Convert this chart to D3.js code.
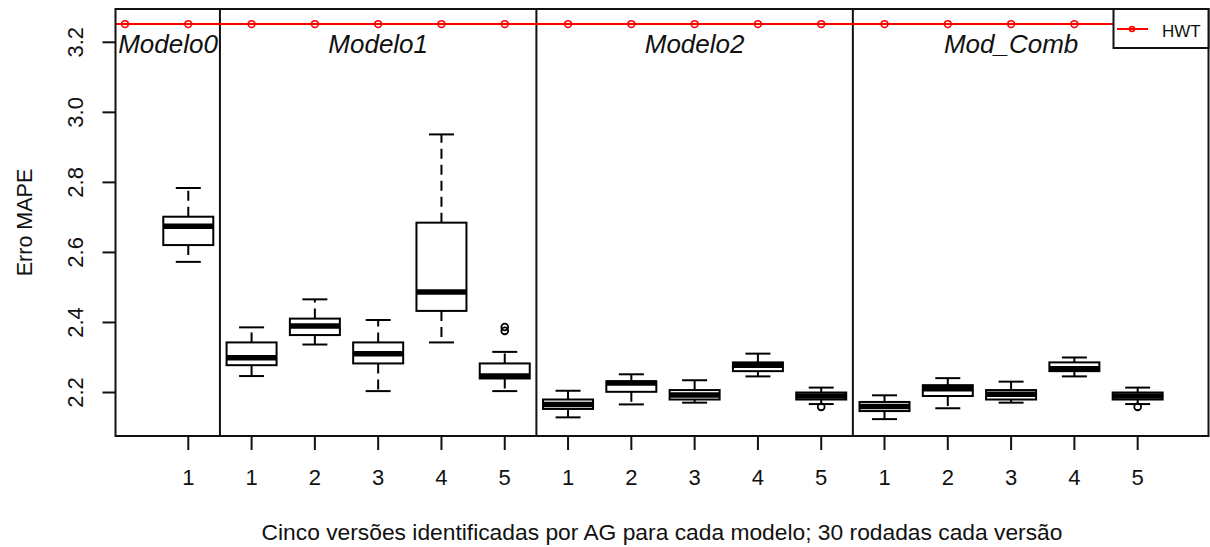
<!DOCTYPE html>
<html>
<head>
<meta charset="utf-8">
<script src="https://cdn.jsdelivr.net/npm/d3@7"></script>
<style>
  html, body { margin: 0; padding: 0; background: #fff; }
  svg { display: block; font-family: "Liberation Sans", Arial, sans-serif; }
</style>
</head>
<body>
<svg id="chart" width="1210" height="547"></svg>
<script>
// Boxplot summaries of MAPE error, 30 runs per version, 16 versions in four model groups
const groupNames = ["Modelo0", "Modelo1", "Modelo2", "Mod_Comb"];
const versionLabels = ["1", "1", "2", "3", "4", "5", "1", "2", "3", "4", "5", "1", "2", "3", "4", "5"];

const whiskerLow  = [2.573, 2.247, 2.337, 2.204, 2.343, 2.204, 2.129, 2.166, 2.171, 2.246, 2.167, 2.124, 2.155, 2.171, 2.246, 2.167];
const quart1      = [2.621, 2.278, 2.364, 2.283, 2.433, 2.240, 2.153, 2.202, 2.180, 2.261, 2.180, 2.147, 2.190, 2.180, 2.261, 2.180];
const medians     = [2.675, 2.299, 2.390, 2.311, 2.487, 2.247, 2.166, 2.227, 2.193, 2.278, 2.190, 2.160, 2.211, 2.195, 2.268, 2.190];
const quart3      = [2.702, 2.343, 2.411, 2.343, 2.685, 2.283, 2.180, 2.232, 2.207, 2.286, 2.200, 2.173, 2.221, 2.207, 2.286, 2.200];
const whiskerHigh = [2.784, 2.386, 2.466, 2.407, 2.937, 2.316, 2.205, 2.252, 2.235, 2.311, 2.214, 2.192, 2.241, 2.231, 2.300, 2.214];

// Outlying runs: box index (1-based) and MAPE value
const outlierBox = [6, 6, 11, 16];
const outlierVal = [2.376, 2.387, 2.159, 2.159];

// HWT benchmark, one point per x position from -1 to 17
const hwtPos = [-1, 0, 1, 2, 3, 4, 5, 6, 7, 8, 9, 10, 11, 12, 13, 14, 15, 16, 17];
const hwtVal = [3.252, 3.252, 3.252, 3.252, 3.252, 3.252, 3.252, 3.252, 3.252, 3.252, 3.252, 3.252, 3.252, 3.252, 3.252, 3.252, 3.252, 3.252, 3.252];

const yTicks = [2.2, 2.4, 2.6, 2.8, 3.0, 3.2];

// ---- layout ----
const plot = { left: 115.5, right: 1208.5, top: 9, bottom: 436 };
const svg = d3.select("#chart");

const x = d3.scaleLinear().domain([-0.150, 17.119]).range([plot.left, plot.right]);
const y = d3.scaleLinear().domain([2.0758, 3.2951]).range([plot.bottom, plot.top]);

const boxHalf = 25, capHalf = 12.5;
const positions = d3.range(1, 17);

svg.append("defs").append("clipPath").attr("id", "plotClip")
  .append("rect")
  .attr("x", plot.left).attr("y", plot.top)
  .attr("width", plot.right - plot.left).attr("height", plot.bottom - plot.top);

const g = svg.append("g");

// Boxes
const boxes = g.selectAll("g.box").data(positions).join("g").attr("class", "box");
const ink = "#000";

// whiskers (dashed, drawn from box edge outward)
boxes.append("line")
  .attr("x1", d => x(d)).attr("x2", d => x(d))
  .attr("y1", (d, i) => y(quart3[i])).attr("y2", (d, i) => y(whiskerHigh[i]))
  .attr("stroke", ink).attr("stroke-width", 2).attr("stroke-dasharray", "10,6");
boxes.append("line")
  .attr("x1", d => x(d)).attr("x2", d => x(d))
  .attr("y1", (d, i) => y(quart1[i])).attr("y2", (d, i) => y(whiskerLow[i]))
  .attr("stroke", ink).attr("stroke-width", 2).attr("stroke-dasharray", "10,6");
// whisker caps
boxes.append("line")
  .attr("x1", d => x(d) - capHalf).attr("x2", d => x(d) + capHalf)
  .attr("y1", (d, i) => y(whiskerHigh[i])).attr("y2", (d, i) => y(whiskerHigh[i]))
  .attr("stroke", ink).attr("stroke-width", 2);
boxes.append("line")
  .attr("x1", d => x(d) - capHalf).attr("x2", d => x(d) + capHalf)
  .attr("y1", (d, i) => y(whiskerLow[i])).attr("y2", (d, i) => y(whiskerLow[i]))
  .attr("stroke", ink).attr("stroke-width", 2);
// box
boxes.append("rect")
  .attr("x", d => x(d) - boxHalf).attr("width", boxHalf * 2)
  .attr("y", (d, i) => y(quart3[i]))
  .attr("height", (d, i) => y(quart1[i]) - y(quart3[i]))
  .attr("fill", "#fff").attr("stroke", ink).attr("stroke-width", 2);
// median
boxes.append("line")
  .attr("x1", d => x(d) - boxHalf).attr("x2", d => x(d) + boxHalf)
  .attr("y1", (d, i) => y(medians[i])).attr("y2", (d, i) => y(medians[i]))
  .attr("stroke", ink).attr("stroke-width", 5.5);

// outliers
g.selectAll("circle.out").data(outlierBox).join("circle")
  .attr("class", "out")
  .attr("cx", d => x(d)).attr("cy", (d, i) => y(outlierVal[i]))
  .attr("r", 3.4).attr("fill", "none").attr("stroke", ink).attr("stroke-width", 1.8);

// group separators
const separators = [1.5, 6.5, 11.5];
g.selectAll("line.sep").data(separators).join("line")
  .attr("class", "sep")
  .attr("x1", d => x(d)).attr("x2", d => x(d))
  .attr("y1", plot.top).attr("y2", plot.bottom)
  .attr("stroke", "#111").attr("stroke-width", 2);

// group titles
const labelAt = [0.68, 4, 9, 14];
g.selectAll("text.grp").data(groupNames).join("text")
  .attr("class", "grp")
  .attr("x", (d, i) => x(labelAt[i])).attr("y", 53)
  .attr("text-anchor", "middle")
  .attr("font-size", 26).attr("font-style", "italic")
  .attr("fill", "#111")
  .text(d => d);

// HWT line
const hwt = hwtPos.map((p, i) => [p, hwtVal[i]]);
const hwtG = svg.append("g").attr("clip-path", "url(#plotClip)");
hwtG.append("path")
  .attr("d", d3.line().x(d => x(d[0])).y(d => y(d[1]))(hwt))
  .attr("fill", "none").attr("stroke", "#ff0000").attr("stroke-width", 2);
hwtG.selectAll("circle").data(hwt).join("circle")
  .attr("cx", d => x(d[0])).attr("cy", d => y(d[1]))
  .attr("r", 3.4).attr("fill", "none").attr("stroke", "#ff0000").attr("stroke-width", 1.6);

// frame
svg.append("rect")
  .attr("x", plot.left).attr("y", plot.top)
  .attr("width", plot.right - plot.left).attr("height", plot.bottom - plot.top)
  .attr("fill", "none").attr("stroke", "#111").attr("stroke-width", 2);

// y axis
const yAxis = svg.append("g");
yAxis.selectAll("line").data(yTicks).join("line")
  .attr("x1", plot.left - 13).attr("x2", plot.left)
  .attr("y1", d => y(d)).attr("y2", d => y(d))
  .attr("stroke", "#111").attr("stroke-width", 2);
yAxis.selectAll("text").data(yTicks).join("text")
  .attr("transform", d => `translate(83,${y(d)}) rotate(-90)`)
  .attr("text-anchor", "middle")
  .attr("font-size", 22).attr("fill", "#111")
  .text(d => d3.format(".1f")(d));

// x axis
const xAxis = svg.append("g");
xAxis.selectAll("line").data(positions).join("line")
  .attr("x1", d => x(d)).attr("x2", d => x(d))
  .attr("y1", plot.bottom).attr("y2", plot.bottom + 14)
  .attr("stroke", "#111").attr("stroke-width", 2);
xAxis.selectAll("text").data(positions).join("text")
  .attr("x", d => x(d)).attr("y", 485)
  .attr("text-anchor", "middle")
  .attr("font-size", 22).attr("fill", "#111")
  .text((d, i) => versionLabels[i]);

// axis titles
svg.append("text")
  .attr("x", (plot.left + plot.right) / 2).attr("y", 540)
  .attr("text-anchor", "middle")
  .attr("font-size", 22.8).attr("fill", "#111")
  .text("Cinco versões identificadas por AG para cada modelo; 30 rodadas cada versão");
svg.append("text")
  .attr("transform", `translate(32,${(plot.top + plot.bottom) / 2}) rotate(-90)`)
  .attr("text-anchor", "middle")
  .attr("font-size", 21.5).attr("fill", "#111")
  .text("Erro MAPE");

// legend
const leg = svg.append("g");
leg.append("rect")
  .attr("x", 1113.5).attr("y", plot.top)
  .attr("width", 95).attr("height", 39)
  .attr("fill", "#fff").attr("stroke", "#111").attr("stroke-width", 2);
leg.append("line")
  .attr("x1", 1117).attr("x2", 1148).attr("y1", 29).attr("y2", 29)
  .attr("stroke", "#ff0000").attr("stroke-width", 2);
leg.append("circle")
  .attr("cx", 1132).attr("cy", 29).attr("r", 2.5)
  .attr("fill", "none").attr("stroke", "#ff0000").attr("stroke-width", 1.6);
leg.append("text")
  .attr("x", 1162).attr("y", 36.5)
  .attr("font-size", 17).attr("fill", "#111")
  .text("HWT");
</script>
</body>
</html>
